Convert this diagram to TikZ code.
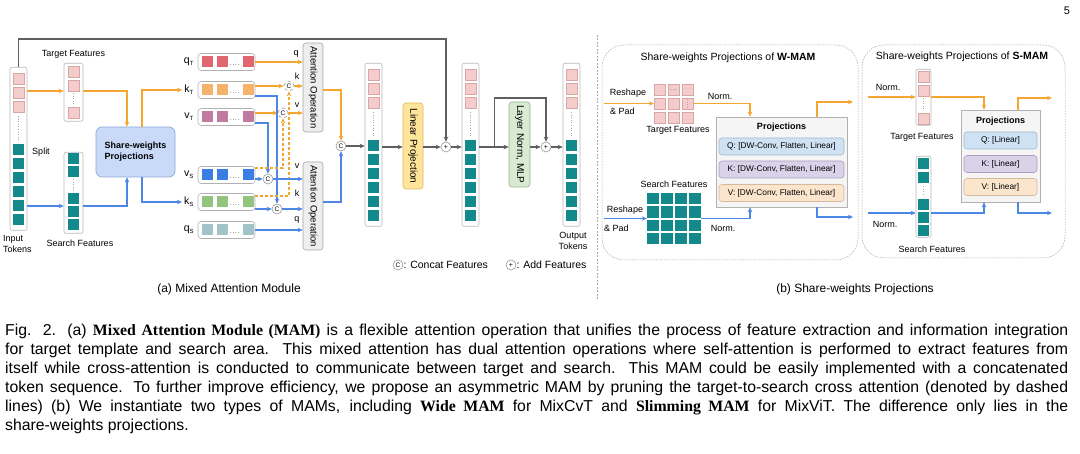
\documentclass[tikz,border=0pt]{standalone}
\usepackage{fontspec}
\setmainfont{Liberation Sans}
\newfontfamily\capserif{Liberation Serif}
\usetikzlibrary{arrows.meta,calc}
\definecolor{orangeln}{HTML}{F4A630}
\definecolor{blueln}{HTML}{4D87E6}
\definecolor{grayln}{HTML}{5F5F5F}
\definecolor{pinktok}{HTML}{F4CCCC}
\definecolor{pinkedge}{HTML}{D9A6A6}
\definecolor{tealtok}{HTML}{13898B}
\definecolor{qtcol}{HTML}{E06670}
\definecolor{ktcol}{HTML}{F6B26B}
\definecolor{vtcol}{HTML}{C27BA0}
\definecolor{vscol}{HTML}{3A7EE3}
\definecolor{kscol}{HTML}{93C47D}
\definecolor{qscol}{HTML}{A2C4C9}
\definecolor{sharefill}{HTML}{C9DAF8}
\definecolor{shareedge}{HTML}{8EA9D8}
\definecolor{linfill}{HTML}{FFE599}
\definecolor{linedge}{HTML}{E0B45C}
\definecolor{lnfill}{HTML}{D9EAD3}
\definecolor{lnedge}{HTML}{93B487}
\definecolor{qfill}{HTML}{CFE2F3}
\definecolor{qedge}{HTML}{9FB8CF}
\definecolor{kfill}{HTML}{D9D2E9}
\definecolor{kedge}{HTML}{A9A0C0}
\definecolor{vfill}{HTML}{FCE5CD}
\definecolor{vedge}{HTML}{D6B89A}
\tikzset{
 tokcol/.style={draw=gray!55,fill=white,rounded corners=2pt,line width=.6pt,minimum width=17pt,inner sep=0},
 pinksq/.style={draw=pinkedge,fill=pinktok,line width=.4pt},
 dotline/.style={draw=gray!70,dotted,line width=.6pt},
 rowbox/.style={draw=gray!60,fill=white,rounded corners=3pt,line width=.6pt,minimum width=57pt,minimum height=17pt,inner sep=0},
 orline/.style={draw=orangeln,line width=1.1pt},
 orarrow/.style={orline,-{Stealth[length=5pt,width=4.5pt]}},
 blline/.style={draw=blueln,line width=1.1pt},
 blarrow/.style={blline,-{Stealth[length=5pt,width=4.5pt]}},
 gyarrow/.style={draw=grayln,line width=1.1pt,-{Stealth[length=5pt,width=4.5pt]}},
 prunedash/.style={dash pattern=on 3pt off 2pt},
 concat/.style={circle,draw=gray!80,fill=white,line width=.6pt,minimum size=10pt,inner sep=0,font=\fontsize{6.5}{7}\selectfont},
 addop/.style={circle,draw=gray!80,fill=white,line width=.6pt,minimum size=10pt,inner sep=0,font=\fontsize{7}{7}\selectfont},
 attbox/.style={draw=gray!70,fill=gray!13,rounded corners=3pt,line width=.6pt,minimum width=20pt,inner sep=0,font=\fontsize{9.5}{10}\selectfont},
 linbox/.style={draw=linedge,fill=linfill,rounded corners=3pt,line width=.6pt,minimum width=20pt,minimum height=86pt,inner sep=0,font=\fontsize{10}{10}\selectfont},
 lnbox/.style={draw=lnedge,fill=lnfill,rounded corners=3pt,line width=.6pt,minimum width=21pt,minimum height=85pt,inner sep=0,font=\fontsize{10}{10}\selectfont},
 sharebox/.style={draw=shareedge,fill=sharefill,rounded corners=6pt,line width=.7pt,minimum width=79pt,minimum height=50pt,align=left,font=\fontsize{9}{11}\selectfont\bfseries},
 projbox/.style={draw=gray!60,fill=gray!8,line width=.6pt,inner sep=0},
 opbox/.style={rounded corners=3pt,line width=.6pt,minimum height=17pt,inner sep=0,font=\fontsize{8.3}{9}\selectfont},
 groupbox/.style={draw=gray!70,dashed,dash pattern=on 1.5pt off 1.2pt,line width=.5pt,rounded corners=22pt},
 lbl/.style={inner sep=0,font=\fontsize{9}{11}\selectfont},
 rowlbl/.style={inner sep=0,font=\fontsize{10.5}{11}\selectfont},
 ttl/.style={inner sep=0,font=\fontsize{10.5}{12}\selectfont},
 subcap/.style={inner sep=0,font=\fontsize{12}{14}\selectfont}
}
\begin{document}
\begin{tikzpicture}[x=1pt,y=-1pt]
\useasboundingbox (0,0) rectangle (1080,454);
\node[inner sep=0,font=\fontsize{11}{12}\selectfont] (pagenum) at (1067,11) {5};
% (a) token sequences
\foreach \nm/\cx/\ty in {intok/18.5/67,cattok/373.5/63,addtok/470.5/63,outtok/571.5/63}{
 \node[tokcol,minimum height=163pt,anchor=north] (\nm) at (\cx,\ty) {};
 \foreach \dy in {12,26,40}
  \draw[pinksq] (\cx-5.5,\ty+\dy-5.5) rectangle +(11,11);
 \draw[dotline] (\cx,\ty+49) -- (\cx,\ty+75);
 \foreach \dy in {83,97,111,125,139,153}
  \fill[tealtok] (\cx-5.5,\ty+\dy-5.5) rectangle +(11,11);
}
\node[tokcol,minimum width=19pt,minimum height=58pt,anchor=north] (tgtcol) at (73.5,63) {};
\foreach \yy in {71.5,85.5,113}
 \draw[pinksq] (68,\yy-5.5) rectangle +(11,11);
\draw[dotline] (73.5,93) -- (73.5,106);
\node[tokcol,minimum width=19pt,minimum height=81pt,anchor=north] (srchcol) at (73.5,152) {};
\foreach \yy in {159,172,199,212,225}
 \fill[tealtok] (68,\yy-5.5) rectangle +(11,11);
\draw[dotline] (73.5,179) -- (73.5,192);
\node[lbl,align=left,anchor=north west] (intoklbl) at (3,235) {Input\\Tokens};
\node[lbl,align=center,anchor=north] (outtoklbl) at (573,232) {Output\\Tokens};
\node[lbl] (splitlbl) at (41,152) {Split};
\node[lbl] (tgtlbl) at (73.5,54) {Target Features};
\node[lbl] (srchlbl) at (80,243) {Search Features};
\node[sharebox] (share) at (135.5,152) {Share-weights\\Projections};
\draw[orarrow] (intok.east |- 0,91) -- (tgtcol.west |- 0,91);
\draw[orarrow] (tgtcol.east |- 0,91) -| (127,0 |- share.north);
\draw[blarrow] (intok.east |- 0,206) -- (srchcol.west |- 0,206);
\draw[blarrow] (srchcol.east |- 0,206) -| (127,0 |- share.south);
% q k v rows
\foreach \nm/\cy/\col/\lt/\sb in {qT/62/qtcol/q/T,kT/90/ktcol/k/T,vT/117/vtcol/v/T,vS/175/vscol/v/S,kS/202/kscol/k/S,qS/230/qscol/q/S}{
 \node[rowbox] (\nm) at (226.5,\cy) {};
 \foreach \xx in {207.5,222,248}
  \fill[\col] (\xx-5.5,\cy-5.5) rectangle +(11,11);
 \draw[dotline] (230,\cy+2.5) -- (240,\cy+2.5);
 \node[rowlbl] (\nm lbl) at (189,\cy) {\lt\textsubscript{\fontsize{6}{6}\selectfont\sb}};
}
\draw[orarrow,shorten >=2pt] (142,0 |- share.north) |- (kTlbl.west);
\draw[blarrow,shorten >=2pt] (142,0 |- share.south) |- (kSlbl.west);
\node[attbox,minimum height=89pt] (attT) at (313,87.5) {\rotatebox{-90}{Attention Operation}};
\node[attbox,minimum height=88pt] (attS) at (313,206) {\rotatebox{-90}{Attention Operation}};
\node[concat,dashed] (kTc) at (289,86) {C};
\node[concat,dashed] (vTc) at (283,113) {C};
\node[concat] (vSc) at (268,179) {C};
\node[concat] (kSc) at (277,209) {C};
\draw[orarrow] (qT.east) -- (qT.east -| attT.west);
\draw[orarrow] (kT.east |- kTc) -- (kTc.west);
\draw[orarrow] (kTc.east) -- (kTc.east -| attT.west);
\draw[orarrow] (vT.east |- vTc) -- (vTc.west);
\draw[orarrow] (vTc.east) -- (vTc.east -| attT.west);
\draw[blarrow] (kT.east |- 0,96) -| (kSc.north);
\draw[blarrow] (vT.east |- 0,123) -| (vSc.north);
\draw[orarrow,prunedash] (vS.east |- 0,168) -| (vTc.south);
\draw[orarrow,prunedash] (kS.east |- 0,196) -| (kTc.south);
\draw[blarrow] (vS.east |- vSc) -- (vSc.west);
\draw[blarrow] (vSc.east) -- (vSc.east -| attS.west);
\draw[blarrow] (kS.east |- kSc) -- (kSc.west);
\draw[blarrow] (kSc.east) -- (kSc.east -| attS.west);
\draw[blarrow] (qS.east) -- (qS.east -| attS.west);
\node[lbl] (qTin) at (296,54) {q};
\node[lbl] (kTin) at (297,76) {k};
\node[lbl] (vTin) at (297,105) {v};
\node[lbl] (vSin) at (297,166) {v};
\node[lbl] (kSin) at (297,193) {k};
\node[lbl] (qSin) at (297,220) {q};
% merge, projection, residuals
\node[concat] (catc) at (341,146) {C};
\draw[orarrow] (attT.east |- 0,90) -| (catc.north);
\draw[blarrow] (attS.east |- 0,202) -| (catc.south);
\draw[gyarrow] (catc.east) -- (cattok.west |- catc);
\node[linbox] (linproj) at (413,146) {\rotatebox{-90}{Linear Projection}};
\node[addop] (addA) at (446,147) {+};
\node[lnbox] (lnmlp) at (519.5,144.5) {\rotatebox{-90}{Layer Norm, MLP}};
\node[addop] (addB) at (546,147) {+};
\draw[gyarrow] (cattok.east |- addA) -- (linproj.west |- addA);
\draw[gyarrow] (linproj.east |- addA) -- (addA.west);
\draw[gyarrow] (addA.east) -- (addtok.west |- addA);
\draw[gyarrow] (intok.north) -- ++(0,-28) -| (addA.north);
\draw[gyarrow] (addtok.east |- addA) -- (lnmlp.west |- addA);
\coordinate (brk) at ($(addtok.east |- addA)+(15,0)$);
\draw[gyarrow] (brk) |- (addB.north |- 0,98) -- (addB.north);
\draw[gyarrow] (lnmlp.east |- addB) -- (addB.west);
\draw[gyarrow] (addB.east) -- (outtok.west |- addB);
\node[concat] (lgC) at (398,265) {C};
\node[lbl,anchor=west,font=\fontsize{10.5}{12}\selectfont] (lgCtxt) at (lgC.east) {: Concat Features};
\node[addop] (lgA) at (511,265) {+};
\node[lbl,anchor=west,font=\fontsize{10.5}{12}\selectfont] (lgAtxt) at (lgA.east) {: Add Features};
\node[subcap] (capa) at (229,289) {(a) Mixed Attention Module};
\draw[draw=gray!70,dashed,dash pattern=on 2pt off 1.5pt,line width=.6pt] (597,35) -- (597,300);
% (b) W-MAM
\draw[groupbox] (602,45) rectangle (858,260);
\node[ttl] (wtitle) at (728,58) {Share-weights Projections of \textbf{W-MAM}};
\node[inner sep=0,minimum width=39pt,minimum height=39pt] (wtgt) at (673.5,103.5) {};
\foreach \i in {0,1,2}
 \foreach \j in {0,1,2}
  \draw[pinksq] (654+14*\i,84+14*\j) rectangle +(11,11);
\draw[dotline] (670,89.5) -- (677,89.5);
\draw[dotline] (687.5,99) -- (687.5,107);
\node[lbl] (wtgtlbl) at (678,130) {Target Features};
\node[lbl] (wrs1) at (628,93) {Reshape};
\node[lbl,anchor=west] (wpad1) at (610,111) {\& Pad};
\coordinate (win1) at (604,103.5);
\draw[orarrow] (win1) -- (wtgt.west);
\node[projbox,minimum width=131pt,minimum height=90pt] (wproj) at (781.5,162) {};
\node[lbl,font=\fontsize{9}{10}\selectfont\bfseries] (wprojttl) at (781.5,127) {Projections};
\node[opbox,draw=qedge,fill=qfill,minimum width=125pt] (wq) at (781.5,146.5) {Q: [DW-Conv, Flatten, Linear]};
\node[opbox,draw=kedge,fill=kfill,minimum width=125pt] (wk) at (781.5,169.5) {K: [DW-Conv, Flatten, Linear]};
\node[opbox,draw=vedge,fill=vfill,minimum width=125pt] (wv) at (781.5,193) {V: [DW-Conv, Flatten, Linear]};
\draw[orarrow] (wtgt.east) -| (750,0 |- wproj.north);
\node[lbl] (wnorm1) at (720,96) {Norm.};
\node[inner sep=0,minimum width=54pt,minimum height=51pt] (wsrch) at (674,218.5) {};
\foreach \i in {0,1,2,3}
 \foreach \j in {0,1,2,3}
  \fill[tealtok] (647+14*\i,193+13.3*\j) rectangle +(12,11.5);
\node[lbl] (wsrchlbl) at (674,184) {Search Features};
\node[lbl] (wrs2) at (625,210) {Reshape};
\node[lbl,anchor=west] (wpad2) at (604,228) {\& Pad};
\coordinate (win2) at (604,218.5);
\draw[blarrow] (win2) -- (wsrch.west);
\draw[blarrow] (wsrch.east) -| (750,0 |- wproj.south);
\node[lbl] (wnorm2) at (723,228) {Norm.};
\coordinate (wout1) at (853,102);
\coordinate (wout2) at (853,217);
\draw[orarrow] (817,0 |- wproj.north) |- (wout1);
\draw[blarrow] (817,0 |- wproj.south) |- (wout2);
% (b) S-MAM
\draw[groupbox] (862,45) rectangle (1065,258);
\node[ttl] (stitle) at (962,57) {Share-weights Projections of \textbf{S-MAM}};
\node[tokcol,minimum width=15pt,minimum height=56pt,anchor=north] (stgt) at (923.5,69) {};
\foreach \yy in {77,90.5,118.5}
 \draw[pinksq] (918,\yy-5.5) rectangle +(11,11);
\draw[dotline] (923.5,98) -- (923.5,111);
\node[tokcol,minimum width=15pt,minimum height=81pt,anchor=north] (ssrch) at (923.5,156) {};
\foreach \yy in {163.5,177.5,204.5,217.5,230.5}
 \fill[tealtok] (918,\yy-5.5) rectangle +(11,11);
\draw[dotline] (923.5,186) -- (923.5,196);
\node[lbl] (stgtlbl) at (922,137) {Target Features};
\node[lbl] (ssrchlbl) at (932,249) {Search Features};
\node[projbox,minimum width=79pt,minimum height=92pt] (sproj) at (1000.5,156) {};
\node[lbl,font=\fontsize{9}{10}\selectfont\bfseries] (sprojttl) at (1000.5,121) {Projections};
\node[opbox,draw=qedge,fill=qfill,minimum width=73pt] (sq) at (1000.5,140.5) {Q: [Linear]};
\node[opbox,draw=kedge,fill=kfill,minimum width=73pt] (sk) at (1000.5,164) {K: [Linear]};
\node[opbox,draw=vedge,fill=vfill,minimum width=73pt] (sv) at (1000.5,187) {V: [Linear]};
\coordinate (sin1) at (868,97);
\coordinate (sin2) at (868,213);
\draw[orarrow] (sin1) -- (stgt.west |- sin1);
\draw[orarrow] (stgt.east |- sin1) -| (984,0 |- sproj.north);
\draw[blarrow] (sin2) -- (ssrch.west |- sin2);
\draw[blarrow] (ssrch.east |- sin2) -| (984,0 |- sproj.south);
\node[lbl] (snorm1) at (888,87) {Norm.};
\node[lbl] (snorm2) at (885,224) {Norm.};
\coordinate (sout1) at (1052,98);
\coordinate (sout2) at (1052,213);
\draw[orarrow] (1018,0 |- sproj.north) |- (sout1);
\draw[blarrow] (1018,0 |- sproj.south) |- (sout2);
\node[subcap] (capb) at (855,289) {(b) Share-weights Projections};
% figure caption
\node[anchor=north west,inner sep=0,text width=1063pt,align=justify,font=\fontsize{15.8}{19}\selectfont] (figcap) at (5,324) {\hyphenpenalty=10000
Fig. 2. (a) {\capserif\bfseries Mixed Attention Module (MAM)} is a flexible attention operation that unifies the process of feature extraction and information integration\linebreak
for target template and search area. This mixed attention has dual attention operations where self-attention is performed to extract features from\linebreak
itself while cross-attention is conducted to communicate between target and search. This MAM could be easily implemented with a concatenated\linebreak
token sequence. To further improve efficiency, we propose an asymmetric MAM by pruning the target-to-search cross attention (denoted by dashed\linebreak
lines) (b) We instantiate two types of MAMs, including {\capserif\bfseries Wide MAM} for MixCvT and {\capserif\bfseries Slimming MAM} for MixViT. The difference only lies in the\linebreak
share-weights projections.};
\end{tikzpicture}
\end{document}
